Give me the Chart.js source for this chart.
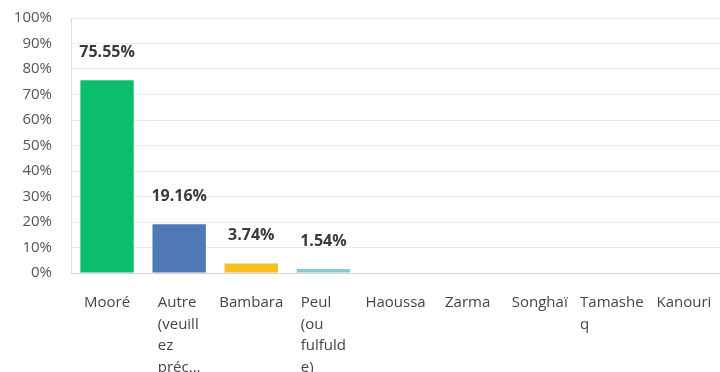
<!DOCTYPE html>
<html>
<head>
<meta charset="utf-8">
<script src="https://cdn.jsdelivr.net/npm/chart.js@4/dist/chart.umd.min.js"></script>
<style>
  html, body { margin: 0; padding: 0; background: #fff; overflow: hidden; }
  #wrap { width: 720px; height: 372px; position: relative; }
</style>
</head>
<body>
<div id="wrap"><canvas id="langChart"></canvas></div>
<script>
// answer options, wrapped the way the survey export wraps them
const languages = [
  ['Mooré'],
  ['Autre', '(veuill', 'ez', 'préc...'],
  ['Bambara'],
  ['Peul', '(ou', 'fulfuld', 'e)'],
  ['Haoussa'],
  ['Zarma'],
  ['Songhaï'],
  ['Tamashe', 'q'],
  ['Kanouri'],
];
const shares = [75.55, 19.16, 3.74, 1.54, 0, 0, 0, 0, 0];
const barColors = ['#0DBD6E', '#4F79B4', '#F6BE1E', '#86CBCB', '#D25F90', '#DE7A3C', '#9E6AB0', '#C4A66B', '#7A8DA0'];
const yTicks = [0, 10, 20, 30, 40, 50, 60, 70, 80, 90, 100];

const FONT = '"Open Sans", "Noto Sans", sans-serif';

// percentage on top of each non-empty bar + left-aligned wrapped category labels
const barLabels = {
  id: 'barLabels',
  afterDatasetsDraw(chart) {
    const { ctx } = chart;
    const meta = chart.getDatasetMeta(0);
    const xScale = chart.scales.x;
    ctx.save();
    ctx.fillStyle = '#3b3b3b';
    ctx.font = `bold 16px ${FONT}`;
    ctx.textAlign = 'center';
    ctx.textBaseline = 'middle';
    meta.data.forEach((bar, i) => {
      if (!shares[i]) return;
      ctx.fillText(shares[i].toFixed(2) + '%', bar.x, bar.y - 28);
    });

    ctx.font = `15px ${FONT}`;
    ctx.fillStyle = '#444';
    ctx.textAlign = 'left';
    languages.forEach((lines, i) => {
      const cx = xScale.getPixelForValue(i);
      const w = Math.max(...lines.map((l) => ctx.measureText(l).width));
      lines.forEach((line, j) => {
        ctx.fillText(line, cx - w / 2, xScale.top + 30 + j * 21.5);
      });
    });
    ctx.restore();
  },
};

new Chart(document.getElementById('langChart'), {
  type: 'bar',
  data: {
    labels: languages.map((l) => l.join(' ')),
    datasets: [{
      data: shares,
      backgroundColor: barColors,
      barPercentage: 0.74,
      categoryPercentage: 1,
    }],
  },
  options: {
    responsive: true,
    maintainAspectRatio: false,
    animation: false,
    layout: { padding: { top: 18, right: 0, left: 0, bottom: 0 } },
    plugins: {
      legend: { display: false },
      tooltip: { enabled: false },
    },
    scales: {
      x: {
        grid: { display: false },
        border: { display: true, color: '#d4d4d4', width: 1 },
        ticks: { display: false },
        afterFit(scale) { scale.height = 99; },
      },
      y: {
        min: 0,
        max: 100,
        afterBuildTicks(scale) { scale.ticks = yTicks.map((v) => ({ value: v })); },
        grid: { color: '#ebebeb', drawTicks: false },
        border: { display: true, color: '#dedede', width: 1 },
        ticks: {
          padding: 19,
          color: '#555',
          font: { family: FONT, size: 15 },
          callback: (v) => v + '%',
        },
        afterFit(scale) {
          scale.width = 71;
          scale.paddingTop = 0;
          scale.paddingBottom = 0;
        },
      },
    },
  },
  plugins: [barLabels],
});
</script>
</body>
</html>
